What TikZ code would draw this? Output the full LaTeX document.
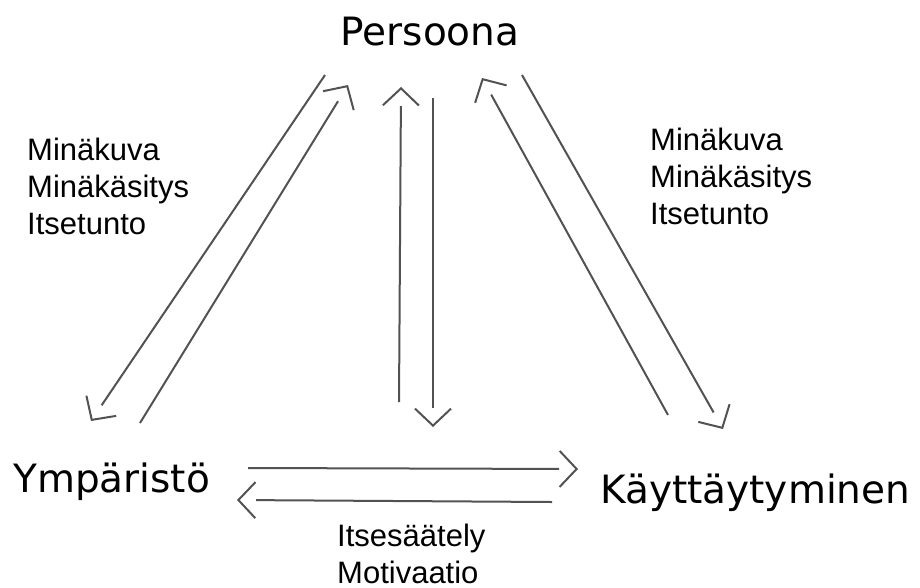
\documentclass[tikz,border=0pt]{standalone}
\usepackage{fontspec}
\setmainfont{Liberation Sans}
\newfontfamily\verdanafont{DejaVu Sans}
\usepackage{tikz}
\usetikzlibrary{positioning}
\usetikzlibrary{arrows.meta}
\tikzset{>={Straight Barb[length=17pt,width=36pt]}}

\begin{document}
\begin{tikzpicture}[x=1pt, y=-1pt, corner/.style={inner sep=0pt, font=\verdanafont\fontsize{39}{47}\selectfont}, notes/.style={inner sep=0pt, align=left, font=\fontsize{31}{37}\selectfont}, link/.style={draw=black!68, line width=2pt, shorten >=19pt, postaction={draw, ->, shorten >=0pt, line cap=butt, dash pattern=on 0pt off 2000pt}}]
    \useasboundingbox (0,0) rectangle (920,587);

    %Nodes
    \node[corner, anchor=base](persoona) at (430,45){Persoona};
    \node[corner, anchor=base west](ymparisto) at (13,492){Ympäristö};
    \node[corner, anchor=base west](kayttaytyminen) at (600,503){Käyttäytyminen};
    \node[notes, anchor=north west](lefttext) at (27,138){Minäkuva\\Minäkäsitys\\Itsetunto};
    \node[notes, anchor=north west](righttext) at (650,128){Minäkuva\\Minäkäsitys\\Itsetunto};
    \node[notes, anchor=north west](bottomtext) at (337,524){Itsesäätely\\Motivaatio};

    %Ends
    \coordinate (p_left) at (325,75);
    \coordinate (p_leftin) at (348,85);
    \coordinate (p_midin) at (401,87);
    \coordinate (p_mid) at (433,98);
    \coordinate (p_rightin) at (482,78);
    \coordinate (p_right) at (522,75);
    \coordinate (y_in) at (91,421);
    \coordinate (y_up) at (140,423);
    \coordinate (y_right) at (248,468);
    \coordinate (y_leftin) at (237,500);
    \coordinate (k_up) at (668,415);
    \coordinate (k_in) at (723,429);
    \coordinate (k_leftin) at (578,469);
    \coordinate (k_left) at (552,502);
    \coordinate (m_up) at (399,402);
    \coordinate (m_in) at (433,427);

    %Lines
    \draw[link] (p_left) -- (y_in);
    \draw[link] (y_up) -- (p_leftin);
    \draw[link] (m_up) -- (p_midin);
    \draw[link] (p_mid) -- (m_in);
    \draw[link] (k_up) -- (p_rightin);
    \draw[link] (p_right) -- (k_in);
    \draw[link] (y_right) -- (k_leftin);
    \draw[link] (k_left) -- (y_leftin);

\end{tikzpicture}
\end{document}
